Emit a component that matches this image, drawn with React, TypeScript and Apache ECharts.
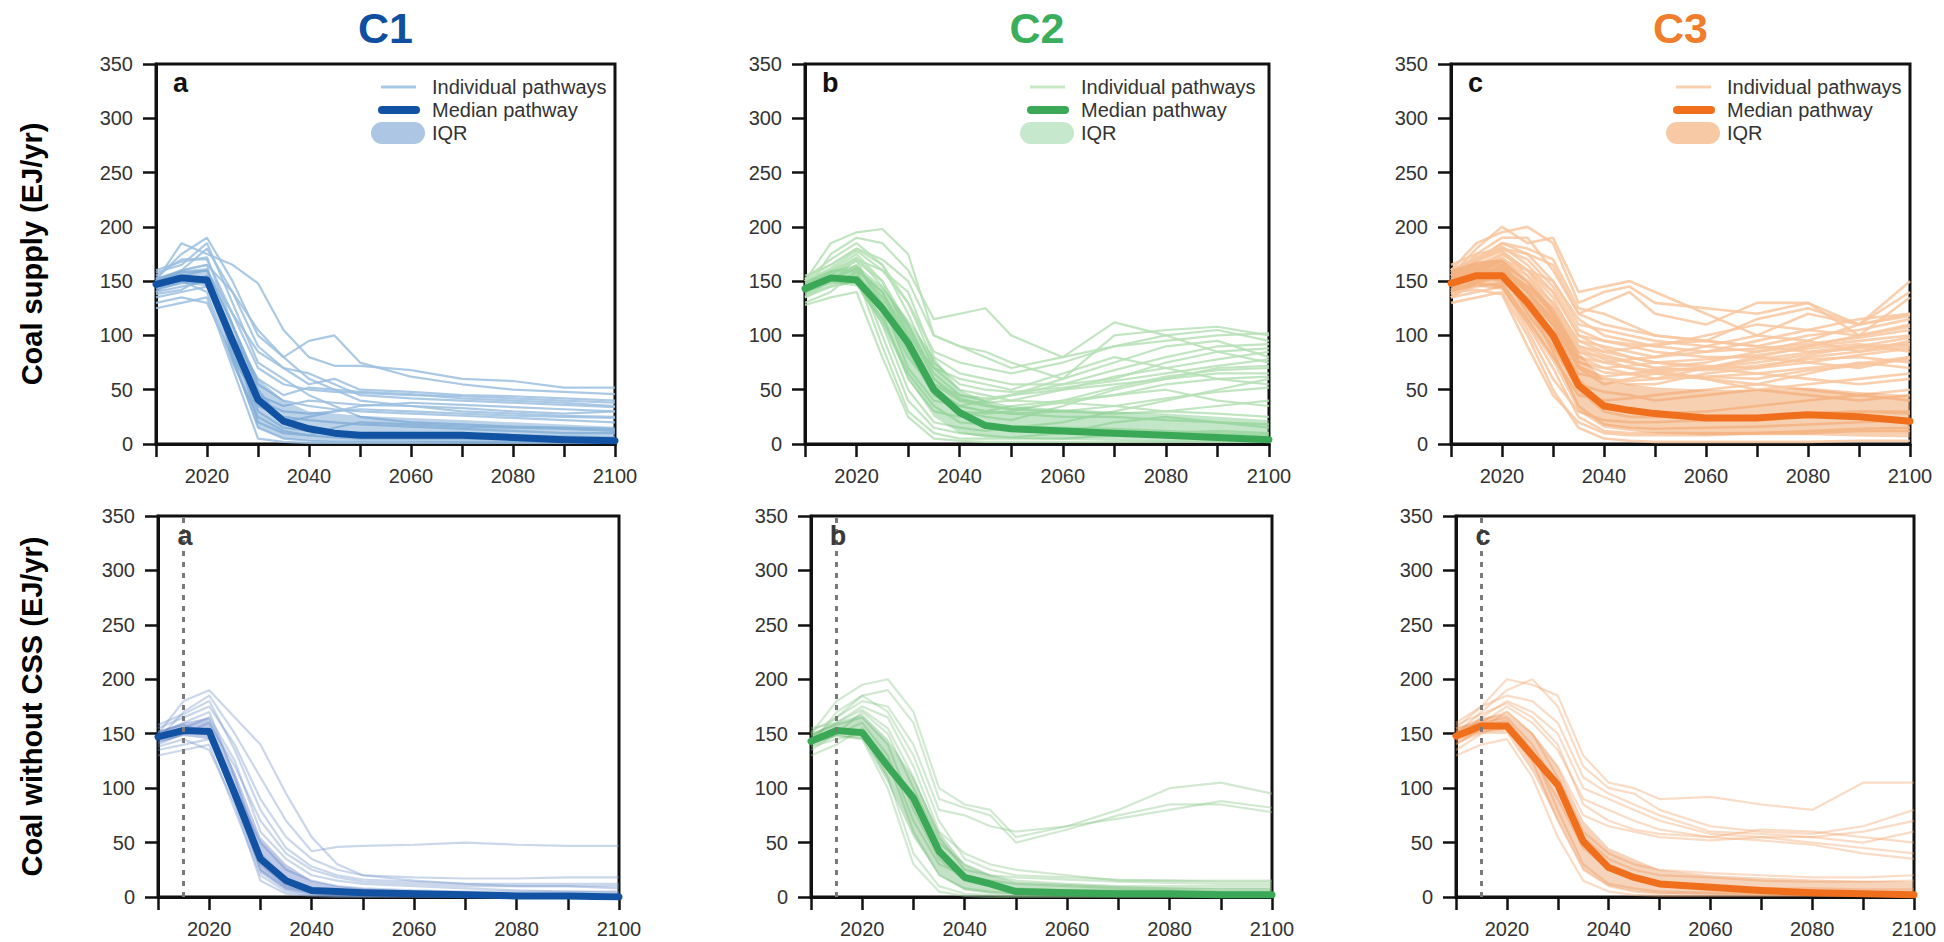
import React, { useEffect, useRef } from "react";
import * as echarts from "echarts";

// ---------- data ----------
const years = [2010, 2015, 2020, 2025, 2030, 2035, 2040, 2045, 2050, 2060, 2070, 2080, 2090, 2100];
const xLabelYears = [2020, 2040, 2060, 2080, 2100];
const yMin = 0;
const yMax = 350;
const yStep = 50;
const columnTitles = ["C1", "C2", "C3"];
const panelLetters = ["a", "b", "c"];
const rowTitles = ["Coal supply (EJ/yr)", "Coal without CSS (EJ/yr)"];
const legendLabels = ["Individual pathways", "Median pathway", "IQR"];
const markYear = 2015;

// C1 – coal supply
const c1SupplyMedian = [147, 153, 151, 95, 41, 21, 14, 10, 8, 8, 8, 6, 4, 3];
const c1SupplyIqrLow = [140, 148, 145, 75, 15, 5, 3, 2, 2, 2, 1, 1, 1, 1];
const c1SupplyIqrHigh = [153, 160, 162, 112, 60, 40, 30, 28, 26, 24, 22, 20, 18, 16];
const c1SupplyPaths = [
  [150, 185, 175, 165, 148, 105, 80, 72, 72, 68, 60, 58, 52, 52],
  [152, 175, 190, 150, 100, 80, 95, 100, 75, 62, 55, 50, 48, 46],
  [140, 160, 180, 140, 90, 70, 55, 60, 50, 48, 45, 44, 42, 40],
  [155, 170, 170, 120, 70, 55, 50, 48, 47, 45, 44, 42, 40, 38],
  [135, 140, 145, 100, 60, 45, 52, 50, 48, 46, 42, 40, 38, 35],
  [130, 135, 130, 80, 40, 30, 28, 30, 32, 30, 28, 26, 25, 24],
  [148, 155, 160, 110, 55, 40, 35, 32, 30, 28, 26, 24, 22, 20],
  [145, 150, 148, 90, 30, 15, 12, 10, 10, 9, 8, 8, 7, 6],
  [150, 160, 165, 80, 15, 5, 3, 2, 2, 2, 2, 2, 2, 2],
  [125, 130, 135, 70, 5, 2, 1, 1, 1, 1, 1, 1, 1, 1],
  [158, 165, 185, 130, 75, 60, 45, 35, 25, 20, 18, 16, 15, 14],
  [140, 145, 150, 95, 45, 35, 40, 38, 36, 35, 33, 30, 28, 30],
  [150, 158, 160, 120, 85, 70, 65, 55, 45, 42, 40, 38, 36, 34],
  [138, 142, 155, 100, 20, 10, 8, 15, 20, 18, 16, 15, 14, 12],
  [152, 160, 165, 140, 105, 80, 60, 50, 40, 35, 30, 28, 26, 25],
  [147, 150, 140, 75, 25, 12, 8, 6, 5, 5, 5, 4, 4, 3],
  [160, 168, 172, 110, 50, 20, 25, 30, 35, 38, 36, 34, 32, 30],
  [143, 148, 152, 85, 35, 25, 22, 20, 18, 16, 14, 12, 10, 10],
];

// C2 – coal supply
const c2SupplyMedian = [143, 153, 151, 125, 93, 50, 29, 17, 14, 12, 10, 8, 6, 4];
const c2SupplyIqrLow = [138, 148, 145, 110, 60, 25, 10, 6, 5, 4, 3, 2, 2, 1];
const c2SupplyIqrHigh = [150, 160, 165, 145, 115, 80, 50, 40, 35, 32, 30, 28, 25, 22];
const c2SupplyPaths = [
  [150, 185, 195, 198, 175, 100, 90, 85, 75, 60, 100, 105, 108, 100],
  [140, 175, 190, 185, 160, 115, 120, 125, 100, 80, 90, 100, 105, 95],
  [155, 165, 180, 170, 150, 100, 90, 80, 70, 80, 112, 100, 85, 75],
  [135, 150, 170, 160, 130, 85, 75, 70, 65, 75, 90, 95, 100, 102],
  [145, 160, 175, 150, 100, 70, 60, 55, 50, 65, 80, 70, 60, 55],
  [130, 140, 160, 140, 90, 55, 45, 40, 45, 60, 75, 90, 95, 80],
  [148, 150, 165, 130, 70, 40, 35, 40, 45, 50, 55, 60, 65, 65],
  [142, 155, 170, 120, 60, 30, 25, 30, 35, 40, 45, 50, 40, 35],
  [138, 145, 150, 110, 50, 20, 15, 12, 15, 20, 30, 40, 50, 60],
  [150, 160, 160, 100, 40, 15, 10, 8, 6, 10, 20, 25, 20, 15],
  [145, 150, 155, 90, 30, 10, 5, 5, 5, 5, 8, 10, 12, 10],
  [128, 135, 140, 80, 25, 5, 3, 2, 2, 2, 2, 2, 2, 2],
  [152, 170, 185, 165, 120, 70, 50, 45, 40, 38, 35, 30, 28, 25],
  [140, 148, 158, 125, 80, 50, 35, 30, 28, 25, 25, 22, 20, 18],
  [146, 158, 172, 145, 110, 60, 40, 35, 32, 30, 28, 30, 35, 40],
  [135, 145, 150, 115, 65, 35, 20, 18, 16, 15, 14, 12, 10, 8],
  [150, 162, 178, 160, 140, 80, 65, 60, 55, 55, 60, 75, 85, 88],
  [144, 152, 162, 135, 95, 45, 30, 25, 22, 35, 50, 60, 70, 72],
  [140, 150, 162, 140, 100, 55, 40, 38, 40, 50, 62, 70, 78, 85],
  [148, 158, 168, 150, 110, 65, 45, 42, 45, 55, 68, 80, 90, 92],
  [136, 146, 155, 130, 85, 45, 30, 28, 30, 40, 52, 62, 68, 70],
  [152, 165, 180, 165, 130, 75, 55, 50, 48, 52, 58, 65, 72, 78],
  [144, 154, 160, 140, 95, 50, 35, 30, 28, 30, 35, 42, 48, 52],
  [150, 160, 170, 150, 105, 60, 42, 36, 32, 38, 45, 55, 60, 62],
];

// C3 – coal supply
const c3SupplyMedian = [148, 155, 155, 130, 100, 54, 35, 31, 28, 24, 24, 27, 25, 21];
const c3SupplyIqrLow = [140, 145, 142, 110, 75, 30, 15, 12, 10, 8, 8, 8, 7, 6];
const c3SupplyIqrHigh = [160, 168, 170, 150, 125, 85, 58, 55, 52, 50, 50, 52, 48, 45];
const c3SupplyPaths = [
  [155, 180, 200, 185, 190, 140, 145, 150, 140, 120, 100, 120, 110, 150],
  [160, 185, 195, 200, 185, 130, 140, 145, 130, 125, 120, 130, 110, 140],
  [150, 175, 190, 190, 160, 120, 130, 140, 120, 110, 130, 130, 100, 135],
  [145, 170, 185, 180, 170, 125, 120, 110, 100, 95, 115, 125, 110, 120],
  [165, 175, 180, 175, 150, 110, 105, 100, 95, 90, 85, 95, 110, 118],
  [140, 160, 175, 160, 140, 100, 95, 90, 85, 80, 80, 90, 100, 110],
  [155, 165, 170, 155, 130, 95, 90, 85, 80, 90, 100, 95, 85, 95],
  [135, 150, 165, 150, 125, 85, 80, 75, 70, 75, 85, 90, 95, 100],
  [150, 160, 160, 140, 115, 75, 70, 65, 60, 70, 80, 75, 70, 80],
  [145, 155, 150, 130, 100, 65, 60, 55, 55, 65, 70, 80, 85, 90],
  [158, 165, 172, 150, 120, 70, 55, 60, 65, 60, 55, 65, 75, 70],
  [148, 150, 155, 125, 95, 55, 48, 45, 40, 45, 50, 55, 60, 65],
  [138, 145, 148, 115, 80, 45, 40, 42, 45, 50, 55, 50, 45, 50],
  [152, 160, 165, 140, 110, 60, 35, 30, 28, 30, 35, 40, 45, 40],
  [142, 148, 145, 105, 60, 30, 22, 20, 20, 22, 25, 28, 30, 30],
  [155, 162, 168, 130, 85, 35, 18, 15, 14, 15, 16, 18, 20, 22],
  [140, 142, 138, 90, 45, 20, 10, 8, 8, 8, 10, 12, 14, 15],
  [130, 135, 140, 100, 50, 15, 5, 3, 2, 2, 2, 2, 3, 3],
  [160, 170, 178, 155, 120, 80, 75, 70, 68, 60, 50, 45, 40, 45],
  [150, 158, 162, 145, 125, 90, 85, 80, 75, 70, 65, 60, 55, 60],
  [146, 152, 158, 120, 90, 50, 30, 25, 25, 25, 24, 28, 30, 28],
  [135, 140, 145, 110, 70, 25, 12, 10, 10, 10, 10, 10, 12, 12],
  [150, 168, 185, 175, 165, 120, 110, 105, 100, 95, 90, 100, 105, 115],
  [142, 158, 170, 160, 150, 115, 100, 95, 90, 85, 95, 105, 115, 120],
  [155, 170, 180, 170, 145, 105, 95, 92, 90, 100, 110, 105, 100, 108],
  [148, 160, 168, 150, 130, 95, 85, 88, 92, 95, 90, 85, 90, 98],
  [138, 150, 160, 145, 120, 85, 75, 78, 80, 85, 88, 92, 98, 105],
  [160, 172, 182, 165, 140, 100, 88, 80, 75, 78, 82, 88, 92, 85],
  [145, 155, 162, 140, 115, 80, 70, 72, 75, 72, 70, 75, 82, 88],
  [152, 165, 175, 160, 135, 90, 82, 76, 70, 68, 72, 78, 80, 75],
  [135, 148, 155, 135, 110, 70, 62, 65, 68, 70, 75, 82, 90, 92],
  [158, 168, 178, 160, 128, 88, 78, 70, 65, 62, 60, 68, 72, 78],
  [140, 152, 160, 142, 112, 72, 60, 58, 60, 62, 65, 70, 74, 80],
  [150, 162, 170, 150, 118, 76, 66, 64, 66, 70, 78, 84, 88, 92],
];

// C1 – coal without CCS
const c1UnabatedMedian = [147, 153, 152, 95, 35, 15, 6, 5, 4, 3, 2, 1, 1, 0];
const c1UnabatedIqrLow = [142, 148, 145, 85, 22, 6, 2, 1, 1, 1, 0, 0, 0, 0];
const c1UnabatedIqrHigh = [152, 160, 165, 115, 55, 30, 15, 10, 8, 6, 5, 4, 3, 3];
const c1UnabatedPaths = [
  [150, 180, 190, 165, 140, 95, 55, 30, 20, 15, 12, 10, 10, 10],
  [145, 170, 185, 150, 110, 70, 42, 46, 47, 48, 50, 48, 47, 47],
  [155, 165, 175, 140, 90, 55, 35, 25, 20, 18, 17, 17, 18, 18],
  [140, 150, 160, 120, 70, 40, 25, 18, 14, 12, 10, 10, 10, 8],
  [135, 140, 145, 100, 50, 25, 15, 10, 8, 6, 5, 5, 5, 5],
  [150, 160, 170, 110, 40, 15, 8, 5, 4, 3, 3, 2, 2, 2],
  [130, 135, 140, 80, 20, 5, 2, 1, 1, 1, 1, 1, 1, 1],
  [148, 155, 165, 125, 60, 35, 20, 15, 12, 10, 8, 6, 5, 4],
  [142, 150, 155, 100, 30, 10, 5, 3, 2, 2, 2, 2, 2, 2],
  [158, 168, 180, 135, 80, 45, 28, 20, 16, 14, 12, 12, 12, 12],
  [152, 158, 150, 90, 25, 8, 4, 2, 1, 1, 1, 0, 0, 0],
  [138, 145, 135, 85, 15, 3, 1, 0, 0, 0, 0, 0, 0, 0],
];

// C2 – coal without CCS
const c2UnabatedMedian = [143, 153, 151, 120, 91, 42, 18, 12, 5, 4, 3, 3, 2, 2];
const c2UnabatedIqrLow = [138, 148, 145, 105, 55, 20, 6, 3, 2, 1, 1, 1, 1, 1];
const c2UnabatedIqrHigh = [150, 160, 168, 145, 110, 60, 30, 20, 14, 12, 10, 9, 8, 8];
const c2UnabatedPaths = [
  [150, 180, 195, 200, 170, 100, 85, 80, 55, 65, 80, 100, 105, 95],
  [140, 170, 185, 190, 160, 90, 82, 75, 50, 62, 75, 85, 85, 78],
  [145, 165, 180, 175, 140, 80, 75, 65, 60, 65, 72, 80, 88, 82],
  [155, 160, 175, 165, 120, 60, 40, 30, 25, 20, 15, 15, 15, 15],
  [135, 150, 170, 150, 100, 50, 30, 20, 15, 12, 10, 10, 10, 10],
  [150, 158, 165, 140, 80, 35, 15, 10, 8, 6, 6, 6, 5, 5],
  [130, 140, 155, 125, 60, 20, 8, 5, 3, 3, 3, 3, 3, 3],
  [145, 150, 160, 130, 70, 30, 20, 15, 12, 10, 8, 8, 8, 8],
  [138, 145, 150, 110, 40, 10, 3, 2, 1, 1, 1, 1, 1, 1],
  [148, 160, 172, 155, 110, 55, 25, 20, 18, 16, 14, 13, 12, 12],
  [142, 148, 145, 100, 30, 5, 1, 0, 0, 0, 0, 0, 0, 0],
  [152, 165, 185, 170, 130, 70, 35, 25, 20, 18, 16, 15, 14, 14],
];

// C3 – coal without CCS
const c3UnabatedMedian = [148, 157, 157, 130, 103, 51, 27, 18, 12, 9, 6, 4, 3, 2];
const c3UnabatedIqrLow = [140, 150, 150, 115, 70, 25, 10, 5, 3, 2, 2, 1, 1, 1];
const c3UnabatedIqrHigh = [155, 165, 168, 150, 120, 70, 45, 35, 25, 20, 18, 16, 15, 14];
const c3UnabatedPaths = [
  [155, 175, 200, 195, 185, 130, 105, 100, 90, 92, 85, 80, 105, 105],
  [150, 170, 190, 200, 175, 120, 100, 95, 80, 65, 60, 58, 65, 80],
  [160, 175, 185, 180, 160, 110, 95, 85, 75, 60, 58, 55, 60, 70],
  [145, 165, 180, 170, 150, 100, 90, 80, 70, 58, 55, 50, 45, 40],
  [150, 160, 175, 160, 135, 90, 80, 70, 62, 55, 52, 48, 40, 35],
  [140, 155, 170, 150, 120, 75, 65, 60, 55, 52, 55, 55, 50, 60],
  [155, 160, 165, 140, 100, 55, 35, 25, 20, 18, 15, 14, 14, 15],
  [135, 150, 160, 130, 90, 45, 25, 18, 12, 10, 8, 8, 7, 7],
  [148, 158, 162, 135, 80, 30, 12, 8, 5, 4, 3, 3, 2, 2],
  [130, 140, 145, 110, 55, 15, 5, 2, 1, 1, 1, 1, 1, 1],
  [152, 162, 170, 150, 110, 60, 40, 30, 25, 22, 20, 18, 18, 20],
  [145, 152, 155, 125, 70, 25, 10, 5, 3, 3, 2, 2, 2, 2],
  [158, 168, 178, 165, 140, 85, 70, 62, 58, 55, 62, 60, 55, 50],
];

// ---------- styling ----------
const FONT = "'Liberation Sans', Arial, Helvetica, sans-serif";
const titleColors = ["#0f4f9f", "#3aae5a", "#f07d2b"];
const medianColors = ["#1252a3", "#3aa857", "#ef6f1d"];
const pathColorsTop = ["#9cc0e0", "#b6e0b6", "#f8c7a0"];
const pathColorsBottom = ["#7a9bcc", "#8cc88c", "#f2a870"];
const iqrColorsTop = ["rgba(105,155,205,0.45)", "rgba(120,200,130,0.45)", "rgba(240,160,100,0.5)"];
const iqrColorsBottom = ["rgba(70,100,190,0.35)", "rgba(80,170,90,0.35)", "rgba(230,130,60,0.35)"];
const legendPathColors = ["#a8c9e6", "#c6e8c6", "#f9d0b0"];
const legendIqrColors = ["#adc6e3", "#c6e8cc", "#f7c9a5"];

const grids = [
  { left: 156, top: 64, width: 459, height: 380 },
  { left: 805, top: 64, width: 464, height: 380 },
  { left: 1451, top: 64, width: 459, height: 380 },
  { left: 158, top: 516, width: 461, height: 381 },
  { left: 811, top: 516, width: 461, height: 381 },
  { left: 1456, top: 516, width: 458, height: 381 },
];

const panels = [
  { paths: c1SupplyPaths, median: c1SupplyMedian, lo: c1SupplyIqrLow, hi: c1SupplyIqrHigh },
  { paths: c2SupplyPaths, median: c2SupplyMedian, lo: c2SupplyIqrLow, hi: c2SupplyIqrHigh },
  { paths: c3SupplyPaths, median: c3SupplyMedian, lo: c3SupplyIqrLow, hi: c3SupplyIqrHigh },
  { paths: c1UnabatedPaths, median: c1UnabatedMedian, lo: c1UnabatedIqrLow, hi: c1UnabatedIqrHigh },
  { paths: c2UnabatedPaths, median: c2UnabatedMedian, lo: c2UnabatedIqrLow, hi: c2UnabatedIqrHigh },
  { paths: c3UnabatedPaths, median: c3UnabatedMedian, lo: c3UnabatedIqrLow, hi: c3UnabatedIqrHigh },
];

function buildOption() {
  const series: any[] = [];
  panels.forEach((p, i) => {
    const col = i % 3;
    const bottom = i >= 3;
    p.paths.forEach((path) => {
      series.push({
        type: "line",
        name: legendLabels[0],
        xAxisIndex: i,
        yAxisIndex: i,
        data: years.map((y, k) => [y, path[k]]),
        symbol: "none",
        silent: true,
        z: 2,
        lineStyle: {
          color: bottom ? pathColorsBottom[col] : pathColorsTop[col],
          width: bottom ? 2.2 : col === 2 ? 2.6 : 2.2,
          opacity: bottom ? 0.4 : 0.85,
        },
      });
    });
    const lo = p.lo;
    const hi = p.hi;
    const fill = bottom ? iqrColorsBottom[col] : iqrColorsTop[col];
    series.push({
      type: "custom",
      name: legendLabels[2],
      xAxisIndex: i,
      yAxisIndex: i,
      silent: true,
      z: 3,
      data: years.map((y, k) => [y, lo[k], hi[k]]),
      encode: { x: 0, y: [1, 2] },
      renderItem: (params: any, api: any) => {
        if (params.dataIndex !== 0) return null;
        const pts: number[][] = [];
        for (let k = 0; k < years.length; k++) pts.push(api.coord([years[k], hi[k]]));
        for (let k = years.length - 1; k >= 0; k--) pts.push(api.coord([years[k], lo[k]]));
        return { type: "polygon", shape: { points: pts }, style: { fill } };
      },
    });
    const med: any = {
      type: "line",
      name: legendLabels[1],
      xAxisIndex: i,
      yAxisIndex: i,
      data: years.map((y, k) => [y, p.median[k]]),
      symbol: "none",
      silent: true,
      z: 4,
      lineStyle: { color: medianColors[col], width: 7, cap: "round", join: "round" },
    };
    if (bottom) {
      med.markLine = {
        silent: true,
        symbol: ["none", "none"],
        label: { show: false },
        lineStyle: { color: "#7a7a7a", type: [5, 6], width: 3 },
        data: [{ xAxis: markYear }],
      };
    }
    series.push(med);
  });

  const xAxes = grids.map((_, i) => ({
    type: "value",
    gridIndex: i,
    min: 2010,
    max: 2100,
    interval: 10,
    axisLine: { show: true, onZero: false, lineStyle: { color: "#111", width: 3 } },
    axisTick: { show: true, length: 13, lineStyle: { color: "#111", width: 2.5 } },
    axisLabel: {
      margin: 22,
      fontSize: 20,
      color: "#333",
      fontFamily: FONT,
      showMaxLabel: true,
      formatter: (v: number) => (xLabelYears.indexOf(v) >= 0 ? String(v) : ""),
    },
    splitLine: { show: false },
  }));

  const yAxes = grids.map((_, i) => ({
    type: "value",
    gridIndex: i,
    min: yMin,
    max: yMax,
    interval: yStep,
    axisLine: { show: true, onZero: false, lineStyle: { color: "#111", width: 3 } },
    axisTick: { show: true, length: 13, lineStyle: { color: "#111", width: 2.5 } },
    axisLabel: { margin: 23, fontSize: 20, color: "#333", fontFamily: FONT },
    splitLine: { show: false },
  }));

  const graphic: any[] = [];
  columnTitles.forEach((t, c) => {
    const g = grids[c];
    graphic.push({
      type: "text",
      x: g.left + g.width / 2,
      y: 28,
      style: {
        text: t,
        fill: titleColors[c],
        font: `bold 43px ${FONT}`,
        textAlign: "center",
        textVerticalAlign: "middle",
      },
    });
  });
  rowTitles.forEach((t, r) => {
    const g = grids[r * 3];
    graphic.push({
      type: "text",
      x: 32,
      y: g.top + g.height / 2,
      rotation: Math.PI / 2,
      style: {
        text: t,
        fill: "#000",
        font: `bold 29px ${FONT}`,
        textAlign: "center",
        textVerticalAlign: "middle",
      },
    });
  });
  grids.forEach((g, i) => {
    const bottom = i >= 3;
    graphic.push({
      type: "text",
      x: bottom ? g.left + 27 : g.left + 17,
      y: g.top + (bottom ? 20 : 19),
      z: 10,
      style: {
        text: panelLetters[i % 3],
        fill: bottom ? "#3a3a3a" : "#111",
        font: `bold 27px ${FONT}`,
        textAlign: bottom ? "center" : "left",
        textVerticalAlign: "middle",
      },
    });
  });
  for (let c = 0; c < 3; c++) {
    const g = grids[c];
    const L = g.left;
    const T = g.top;
    graphic.push({
      type: "line",
      shape: { x1: L + 225, y1: T + 23, x2: L + 260, y2: T + 23 },
      style: { stroke: legendPathColors[c], lineWidth: 3 },
    });
    graphic.push({
      type: "line",
      shape: { x1: L + 226, y1: T + 46, x2: L + 260, y2: T + 46 },
      style: { stroke: medianColors[c], lineWidth: 8, lineCap: "round" },
    });
    graphic.push({
      type: "rect",
      shape: { x: L + 215, y: T + 58, width: 54, height: 22, r: 11 },
      style: { fill: legendIqrColors[c] },
    });
    legendLabels.forEach((lab, k) => {
      graphic.push({
        type: "text",
        x: L + 276,
        y: T + 23 + k * 23,
        style: {
          text: lab,
          fill: "#333",
          font: `20px ${FONT}`,
          textAlign: "left",
          textVerticalAlign: "middle",
        },
      });
    });
  }

  return {
    animation: false,
    backgroundColor: "#ffffff",
    grid: grids.map((g) => ({
      ...g,
      show: true,
      borderColor: "#111",
      borderWidth: 3,
      backgroundColor: "transparent",
      containLabel: false,
    })),
    xAxis: xAxes,
    yAxis: yAxes,
    series,
    graphic,
  };
}

export default function App() {
  const ref = useRef<HTMLDivElement>(null);
  useEffect(() => {
    if (!ref.current) return;
    const chart = echarts.init(ref.current, undefined, { renderer: "svg" });
    chart.setOption(buildOption() as any);
    return () => chart.dispose();
  }, []);
  return (
    <div
      ref={ref}
      style={{ position: "absolute", left: 0, top: 0, width: 1944, height: 942, background: "#fff" }}
    />
  );
}
